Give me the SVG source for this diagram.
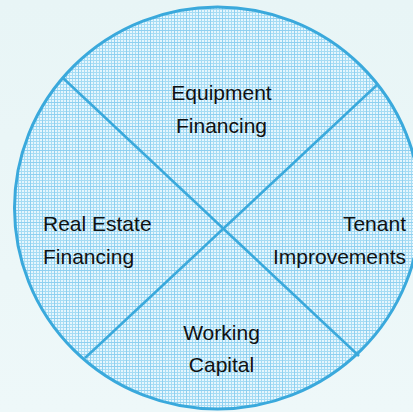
<svg xmlns="http://www.w3.org/2000/svg" width="413" height="412" viewBox="0 0 413 412">
  <defs>
    <linearGradient id="bg" x1="0" y1="0" x2="0" y2="1">
      <stop offset="0" stop-color="#e8f5f6"/>
      <stop offset="1" stop-color="#eef8f9"/>
    </linearGradient>
    <!-- fine grid hatch used for the disc -->
    <pattern id="grid" width="3" height="3" patternUnits="userSpaceOnUse">
      <rect width="3" height="3" fill="#e6f6fd"/>
      <rect width="3" height="1" fill="#a6dcf4"/>
      <rect width="1" height="3" fill="#a6dcf4"/>
    </pattern>
    <pattern id="plaid" width="12" height="12" patternUnits="userSpaceOnUse">
      <rect width="12" height="12" fill="url(#grid)"/>
      <rect y="6" width="12" height="1" fill="#8fd0f0"/>
      <rect x="6" width="1" height="12" fill="#8fd0f0"/>
    </pattern>
  </defs>
  <style>
    .disc { fill: url(#plaid); stroke: #3aa9dc; stroke-width: 3; }
    .divider { stroke: #3aa9dc; stroke-width: 2.5; fill: none; stroke-linecap: butt; }
    .label { font-family: "Liberation Sans", Arial, sans-serif; font-size: 21px; fill: #111; }
  </style>

  <rect width="413" height="412" fill="url(#bg)"/>

  <g id="disc">
    <ellipse class="disc" cx="217.5" cy="208" rx="203" ry="201"/>
  </g>

  <g id="connectors">
    <line class="divider" x1="63" y1="78" x2="359" y2="356"/>
    <line class="divider" x1="378" y1="84" x2="85" y2="358"/>
  </g>

  <g id="equipment-financing">
    <text class="label" x="221.5" y="100" text-anchor="middle">Equipment</text>
    <text class="label" x="221.5" y="133" text-anchor="middle">Financing</text>
  </g>

  <g id="real-estate-financing">
    <text class="label" x="43" y="231">Real Estate</text>
    <text class="label" x="43" y="263.5">Financing</text>
  </g>

  <g id="tenant-improvements">
    <text class="label" x="406" y="231" text-anchor="end">Tenant</text>
    <text class="label" x="406" y="263.5" text-anchor="end">Improvements</text>
  </g>

  <g id="working-capital">
    <text class="label" x="221.5" y="340" text-anchor="middle">Working</text>
    <text class="label" x="221.5" y="372" text-anchor="middle">Capital</text>
  </g>
</svg>
